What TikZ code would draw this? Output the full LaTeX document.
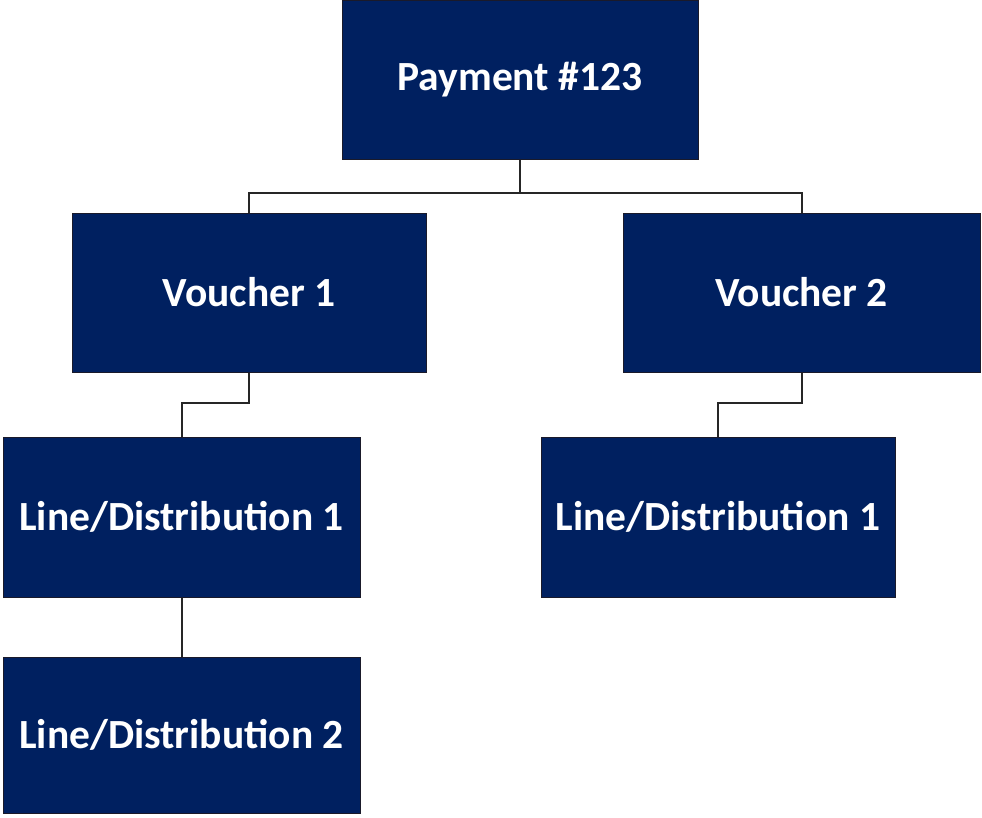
\documentclass[tikz,border=0pt]{standalone}
\usepackage{fontspec}
\setmainfont{Carlito}
\definecolor{navy}{HTML}{002060}
\definecolor{edge}{HTML}{1A1A2A}
\begin{document}
\begin{tikzpicture}[x=1pt,y=-1pt,
  box/.style={draw=edge,line width=1pt,fill=navy,text=white,font=\fontsize{41.5}{48}\selectfont\bfseries,inner sep=0pt,anchor=center},
  conn/.style={draw=black!85,line width=2pt}]
\useasboundingbox (0,0) rectangle (982,817);
\node[box,minimum width=356pt,minimum height=159pt] (P) at (520,79.5) {Payment \#123};
\node[box,minimum width=354pt,minimum height=159pt] (V1) at (249,292.5) {Voucher 1};
\node[box,minimum width=357pt,minimum height=159pt] (V2) at (801.5,292.5) {Voucher 2};
\node[box,minimum width=357pt,minimum height=160pt] (L1) at (181.5,517) {Line/Distribution 1};
\node[box,minimum width=354pt,minimum height=160pt] (LR) at (718,517) {Line/Distribution 1};
\node[box,minimum width=357pt,minimum height=156pt] (L2) at (181.5,735) {Line/Distribution 2};
\coordinate (j1) at (0,193);
\coordinate (k1) at (0,403);
\draw[conn] (P.south) -- (P.south |- j1);
\draw[conn] (V1.north) |- (P.south |- j1) -| (V2.north);
\draw[conn] (V1.south) -- (V1.south |- k1) -| (L1.north);
\draw[conn] (V2.south) -- (V2.south |- k1) -| (LR.north);
\draw[conn] (L1.south) -- (L2.north);
\end{tikzpicture}
\end{document}
